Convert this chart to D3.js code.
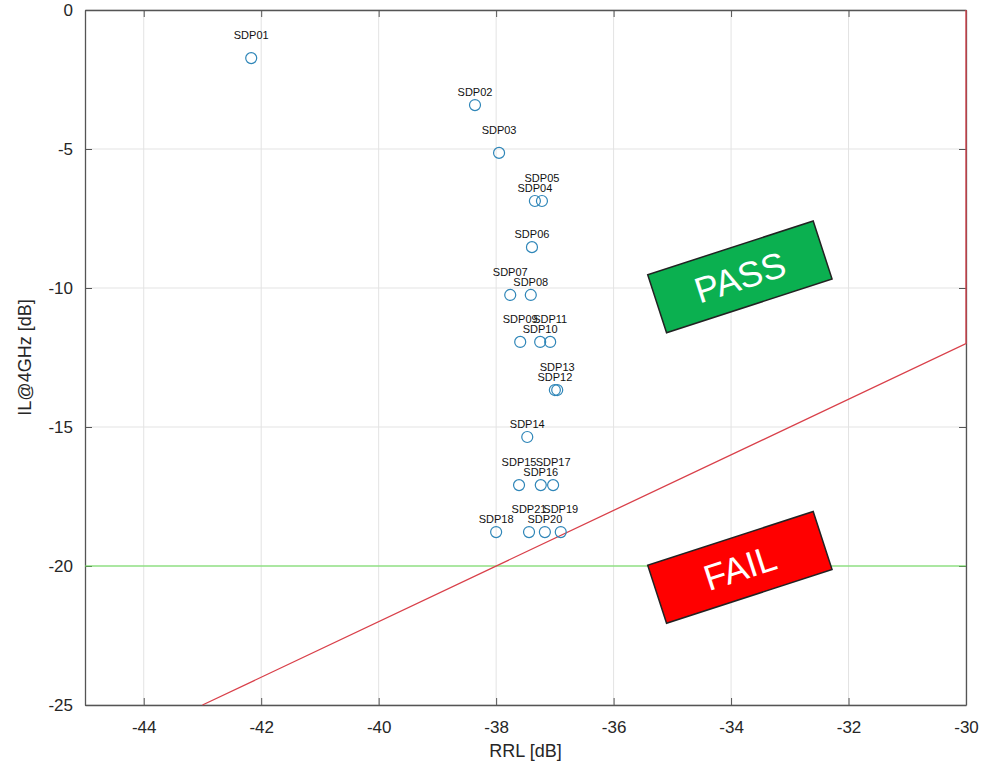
<!DOCTYPE html>
<html>
<head>
<meta charset="utf-8">
<script src="https://cdn.jsdelivr.net/npm/d3@7"></script>
<style>
    body { margin: 0; background: #fff; }
    svg { font-family: "Liberation Sans", Arial, sans-serif; }
</style>
</head>
<body>
<div id="chart"></div>
<script>
// sample names and measured values
const names = ["SDP01","SDP02","SDP03","SDP04","SDP05","SDP06","SDP07","SDP08","SDP09","SDP10",
               "SDP11","SDP12","SDP13","SDP14","SDP15","SDP16","SDP17","SDP18","SDP19","SDP20","SDP21"]
const rrl = [-42.17, -38.36, -37.95, -37.34, -37.22, -37.39, -37.76, -37.41, -37.59, -37.25,
             -37.08, -37.00, -36.96, -37.47, -37.61, -37.24, -37.03, -38.00, -36.90, -37.17, -37.44]
const il = [-1.73, -3.42, -5.14, -6.87, -6.87, -8.53, -10.25, -10.25, -11.94, -11.94,
            -11.94, -13.67, -13.67, -15.36, -17.09, -17.09, -17.09, -18.78, -18.78, -18.78, -18.78]

const xTicks = [-44, -42, -40, -38, -36, -34, -32, -30]
const yTicks = [0, -5, -10, -15, -20, -25]

// limit lines
const limitLine = [[-43, -25], [-30, -12], [-30, 0]]
const ilLimit = -20

// region labels (centre in data units)
const regions = [
    {text: "PASS", x: -33.85, y: -9.6, fill: "#0bb050"},
    {text: "FAIL", x: -33.85, y: -20.05, fill: "#ff0000"}
]

const width = 990, height = 767
const margin = {left: 85, right: 24, top: 10, bottom: 62}

const svg = d3.select("#chart").append("svg")
    .attr("width", width)
    .attr("height", height)

const x = d3.scaleLinear().domain([-45, -30]).range([margin.left, width - margin.right])
const y = d3.scaleLinear().domain([-25, 0]).range([height - margin.bottom, margin.top])

// grid
const grid = svg.append("g")
grid.selectAll("line.gx").data(xTicks).enter().append("line")
    .attr("x1", d => x(d)).attr("x2", d => x(d))
    .attr("y1", y(0)).attr("y2", y(-25))
    .attr("stroke", "#e3e3e3").attr("stroke-width", 1)
grid.selectAll("line.gy").data(yTicks).enter().append("line")
    .attr("x1", x(-45)).attr("x2", x(-30))
    .attr("y1", d => y(d)).attr("y2", d => y(d))
    .attr("stroke", "#e3e3e3").attr("stroke-width", 1)

// axes (box with inward ticks)
const axisColor = "#555"
const xAxis = svg.append("g")
    .attr("transform", `translate(0,${y(-25)})`)
    .call(d3.axisBottom(x).tickValues(xTicks).tickSizeInner(-7).tickSizeOuter(0).tickPadding(16))
const xAxisTop = svg.append("g")
    .attr("transform", `translate(0,${y(0)})`)
    .call(d3.axisTop(x).tickValues(xTicks).tickSizeInner(-7).tickSizeOuter(0).tickFormat(""))
const yAxis = svg.append("g")
    .attr("transform", `translate(${x(-45)},0)`)
    .call(d3.axisLeft(y).tickValues(yTicks).tickSizeInner(-7).tickSizeOuter(0).tickPadding(12))
const yAxisRight = svg.append("g")
    .attr("transform", `translate(${x(-30)},0)`)
    .call(d3.axisRight(y).tickValues(yTicks).tickSizeInner(-7).tickSizeOuter(0).tickFormat(""))

;[xAxis, xAxisTop, yAxis, yAxisRight].forEach(a => {
    a.select(".domain").attr("stroke", axisColor).attr("stroke-width", 1.3)
    a.selectAll(".tick line").attr("stroke", axisColor)
    a.selectAll(".tick text")
        .attr("fill", "#262626")
        .attr("font-size", 17)
        .attr("font-family", "Liberation Sans, Arial, sans-serif")
})
xAxis.selectAll(".tick text").text(d => d < 0 ? "-" + Math.abs(d) : d)
yAxis.selectAll(".tick text").text(d => d < 0 ? "-" + Math.abs(d) : d)

// axis titles
svg.append("text")
    .attr("x", x(-37.5)).attr("y", 757)
    .attr("text-anchor", "middle")
    .attr("font-size", 18).attr("fill", "#262626")
    .text("RRL [dB]")
svg.append("text")
    .attr("transform", `translate(31,${y(-12.5)}) rotate(-90)`)
    .attr("text-anchor", "middle")
    .attr("font-size", 18).attr("fill", "#262626")
    .text("IL@4GHz [dB]")

// limit lines
svg.append("line")
    .attr("x1", x(-45)).attr("x2", x(-30))
    .attr("y1", y(ilLimit)).attr("y2", y(ilLimit))
    .attr("stroke", "#66dd55").attr("stroke-width", 1.2)

const line = d3.line().x(d => x(d[0])).y(d => y(d[1]))
svg.append("path")
    .attr("d", line(limitLine))
    .attr("fill", "none")
    .attr("stroke", "#d9404a").attr("stroke-width", 1.3)

// data points
const pts = names.map((n, i) => ({name: n, x: rrl[i], y: il[i], i: i}))
svg.append("g").selectAll("circle").data(pts).enter().append("circle")
    .attr("cx", d => x(d.x)).attr("cy", d => y(d.y))
    .attr("r", 5.5)
    .attr("fill", "none")
    .attr("stroke", "#2f86b8").attr("stroke-width", 1.2)

// labels alternate high / low to avoid overlap
svg.append("g").selectAll("text").data(pts).enter().append("text")
    .attr("x", d => x(d.x))
    .attr("y", d => y(d.y) - (d.i % 2 === 0 ? 19 : 9))
    .attr("text-anchor", "middle")
    .attr("font-size", 11)
    .attr("fill", "#111")
    .text(d => d.name)

// PASS / FAIL boxes
const boxes = svg.append("g").selectAll("g").data(regions).enter().append("g")
    .attr("transform", d => `translate(${x(d.x)},${y(d.y)}) rotate(-18)`)
boxes.append("rect")
    .attr("x", -87).attr("y", -30.5)
    .attr("width", 174).attr("height", 61)
    .attr("fill", d => d.fill)
    .attr("stroke", "#222").attr("stroke-width", 1.5)
boxes.append("text")
    .attr("text-anchor", "middle")
    .attr("dy", "0.36em")
    .attr("font-size", 36)
    .attr("fill", "#fff")
    .text(d => d.text)
</script>
</body>
</html>
